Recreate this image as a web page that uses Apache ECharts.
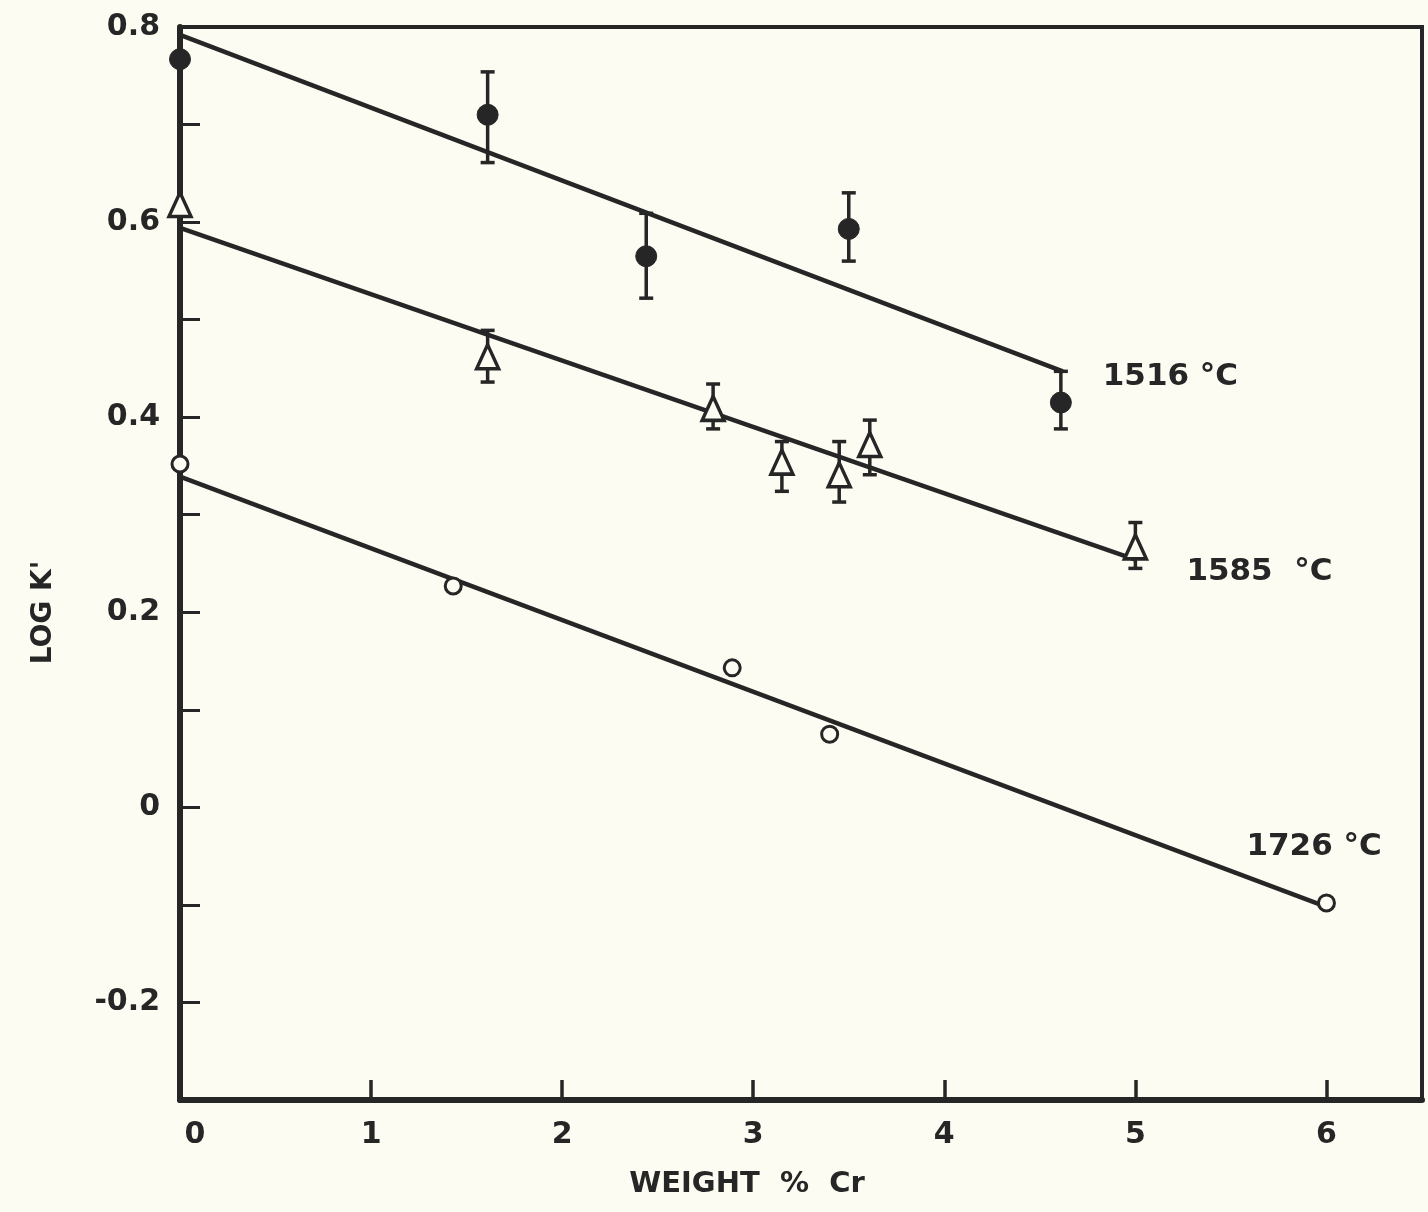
<!DOCTYPE html>
<html>
<head>
<meta charset="utf-8">
<script src="https://cdn.jsdelivr.net/npm/echarts@6/dist/echarts.min.js"></script>
<style>
  html, body { margin: 0; padding: 0; background: #fdfcf2; }
  #chart { width: 1428px; height: 1212px; }
</style>
</head>
<body>
<div id="chart"></div>
<script>
// ---- data ----
const cr1516 = [0, 1.61, 2.44, 3.50, 4.61];
const logk1516 = [0.767, 0.710, 0.565, 0.593, 0.415];
const errLow1516 = [null, 0.661, 0.522, 0.560, 0.388];
const errHigh1516 = [null, 0.754, 0.609, 0.630, 0.447];
const fitX1516 = [0, 4.62];
const fitY1516 = [0.792, 0.447];

const cr1585 = [0, 1.61, 2.79, 3.15, 3.45, 3.61, 5.0];
const logk1585 = [0.618, 0.462, 0.409, 0.354, 0.341, 0.372, 0.267];
const errLow1585 = [null, 0.436, 0.388, 0.324, 0.313, 0.341, 0.245];
const errHigh1585 = [null, 0.489, 0.434, 0.375, 0.375, 0.397, 0.292];
const fitX1585 = [0, 5.0];
const fitY1585 = [0.594, 0.254];

const cr1726 = [0, 1.43, 2.89, 3.40, 6.0];
const logk1726 = [0.352, 0.227, 0.143, 0.075, -0.098];
const fitX1726 = [0, 6.0];
const fitY1726 = [0.339, -0.102];

const seriesNames = ['1516 °C', '1585  °C', '1726 °C'];
const xTickLabels = ['0', '1', '2', '3', '4', '5', '6'];
const yTickLabels = ['-0.2', '0', '0.2', '0.4', '0.6', '0.8'];
const xAxisTitle = 'WEIGHT  %  Cr';
const yAxisTitle = "LOG K'";

// ---- build ----
const INK = '#262626';
const BG = '#fdfcf2';
const FONT = 'DejaVu Sans';

function pts(xs, ys) { return xs.map((x, i) => [x, ys[i]]); }
function errs(xs, lo, hi) {
  const out = [];
  xs.forEach((x, i) => { if (lo[i] != null) out.push([x, lo[i], hi[i]]); });
  return out;
}

function errorBarSeries(data) {
  return {
    type: 'custom',
    z: 3,
    data: data,
    encode: { x: 0, y: [1, 2] },
    renderItem: function (params, api) {
      const x = api.value(0);
      const lo = api.coord([x, api.value(1)]);
      const hi = api.coord([x, api.value(2)]);
      const cap = 7;
      const st = { stroke: INK, lineWidth: 3.5 };
      return {
        type: 'group',
        children: [
          { type: 'line', shape: { x1: lo[0], y1: lo[1], x2: hi[0], y2: hi[1] }, style: st },
          { type: 'line', shape: { x1: lo[0] - cap, y1: lo[1], x2: lo[0] + cap, y2: lo[1] }, style: st },
          { type: 'line', shape: { x1: hi[0] - cap, y1: hi[1], x2: hi[0] + cap, y2: hi[1] }, style: st }
        ]
      };
    }
  };
}

function fitLine(xs, ys, name, offset) {
  return {
    type: 'line',
    z: 2,
    data: pts(xs, ys),
    showSymbol: false,
    symbol: 'none',
    lineStyle: { color: INK, width: 4.5 },
    silent: true,
    endLabel: {
      show: true,
      formatter: name,
      color: INK,
      fontFamily: FONT,
      fontWeight: 'bold',
      fontSize: 31,
      distance: 5,
      offset: offset
    }
  };
}

const chart = echarts.init(document.getElementById('chart'), null, { renderer: 'canvas' });

const option = {
  backgroundColor: BG,
  animation: false,
  grid: {
    left: 180, right: 6, top: 27, bottom: 112,
    show: true, borderColor: INK, borderWidth: 4, backgroundColor: 'transparent'
  },
  xAxis: {
    type: 'value',
    min: 0, max: 6.5, interval: 1,
    splitLine: { show: false },
    axisLine: { show: true, onZero: false, lineStyle: { color: INK, width: 6 } },
    axisTick: { show: true, inside: true, length: 20, lineStyle: { color: INK, width: 3.5 } },
    axisLabel: {
      color: INK, fontFamily: FONT, fontWeight: 'bold', fontSize: 30, margin: 20,
      showMaxLabel: false,
      formatter: function (v) {
        const i = Math.round(v);
        if (Math.abs(v - i) > 1e-6 || i < 0 || i >= xTickLabels.length) return '';
        return i === 0 ? '{z|' + xTickLabels[0] + '}' : xTickLabels[i];
      },
      rich: { z: { color: INK, fontFamily: FONT, fontWeight: 'bold', fontSize: 30, padding: [0, 0, 0, 30] } }
    },
    name: xAxisTitle,
    nameLocation: 'middle',
    nameGap: 70,
    nameTextStyle: { color: INK, fontFamily: FONT, fontWeight: 'bold', fontSize: 29, padding: [0, 108, 0, 0] }
  },
  yAxis: {
    type: 'value',
    min: -0.3, max: 0.8, interval: 0.1,
    splitLine: { show: false },
    axisLine: { show: true, onZero: false, lineStyle: { color: INK, width: 6 } },
    axisTick: { show: true, inside: true, length: 20, lineStyle: { color: INK, width: 3 } },
    axisLabel: {
      color: INK, fontFamily: FONT, fontWeight: 'bold', fontSize: 30, margin: 20,
      formatter: function (v) {
        for (const s of yTickLabels) { if (Math.abs(parseFloat(s) - v) < 1e-6) return s; }
        return '';
      }
    },
    name: yAxisTitle,
    nameLocation: 'middle',
    nameGap: 122,
    nameTextStyle: { color: INK, fontFamily: FONT, fontWeight: 'bold', fontSize: 28, padding: [0, 98, 0, 0] }
  },
  series: [
    fitLine(fitX1516, fitY1516, seriesNames[0], [35, 6]),
    fitLine(fitX1585, fitY1585, seriesNames[1], [46, 12]),
    fitLine(fitX1726, fitY1726, seriesNames[2], [-85, -60]),
    errorBarSeries(errs(cr1516, errLow1516, errHigh1516)),
    errorBarSeries(errs(cr1585, errLow1585, errHigh1585)),
    {
      type: 'scatter', z: 5, data: pts(cr1516, logk1516),
      symbol: 'circle', symbolSize: 21,
      itemStyle: { color: INK, borderColor: INK, borderWidth: 1, opacity: 1 }
    },
    {
      type: 'scatter', z: 5, data: pts(cr1585, logk1585),
      symbol: 'triangle', symbolSize: [22, 24],
      itemStyle: { color: BG, borderColor: INK, borderWidth: 3.5, opacity: 1 }
    },
    {
      type: 'scatter', z: 5, data: pts(cr1726, logk1726),
      symbol: 'circle', symbolSize: 16,
      itemStyle: { color: BG, borderColor: INK, borderWidth: 3, opacity: 1 }
    }
  ]
};

chart.setOption(option);
</script>
</body>
</html>
